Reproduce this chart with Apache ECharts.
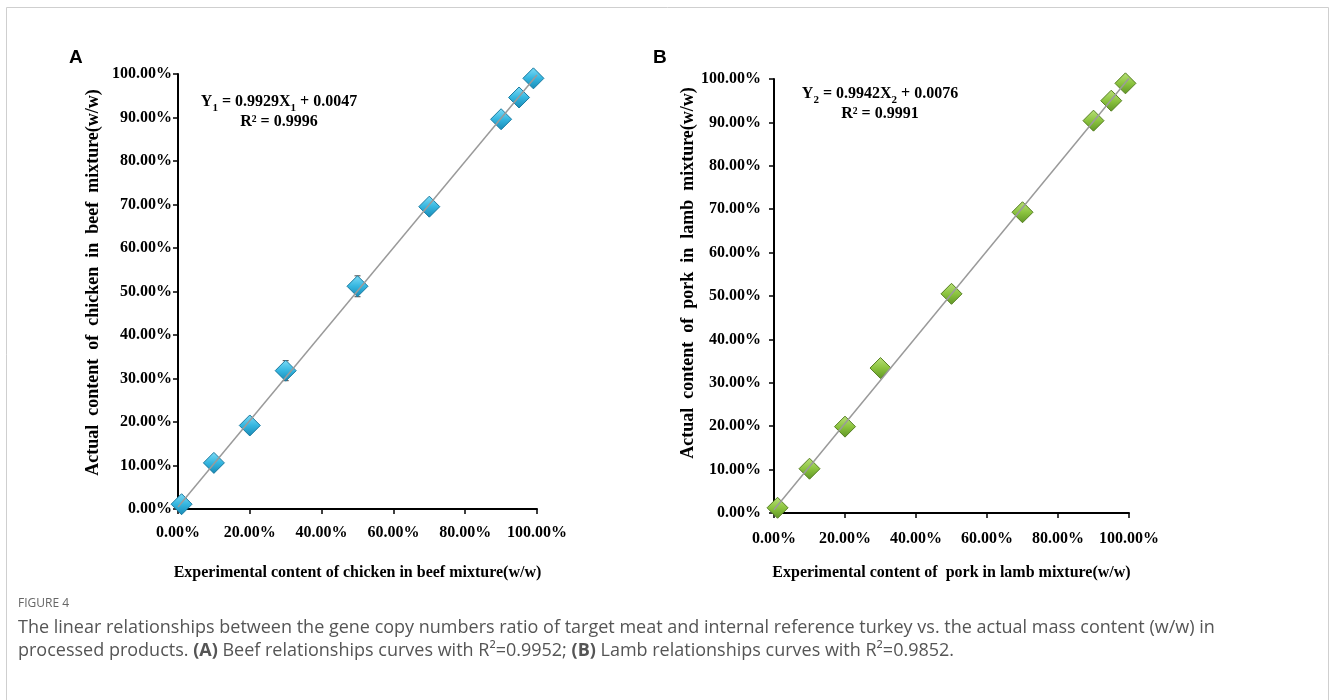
<!DOCTYPE html>
<html>
<head>
<meta charset="utf-8">
<script src="https://cdn.jsdelivr.net/npm/echarts@6/dist/echarts.min.js"></script>
<style>
  html, body { margin: 0; padding: 0; background: #fff; }
  #main { width: 1330px; height: 700px; }
</style>
</head>
<body>
<div id="main"></div>
<script>
  // experimental content (%) - same levels for both panels
  const expLevels = [1, 10, 20, 30, 50, 70, 90, 95, 99]
  // panel A: chicken in beef, actual content (%)
  const chickenActual = [1.1, 10.6, 19.2, 31.8, 51.2, 69.5, 89.6, 94.6, 99.0]
  const chickenErr = [0.6, 0.8, 0.7, 2.3, 2.4, 0.8, 0.7, 0.8, 0.6]
  // panel B: pork in lamb, actual content (%)
  const porkActual = [1.2, 10.2, 19.9, 33.4, 50.5, 69.3, 90.4, 95.0, 99.0]
  // fitted lines (slope, intercept as fraction)
  const fitA = [0.9929, 0.0047]
  const fitB = [0.9942, 0.0076]
  const xTicks = [0, 20, 40, 60, 80, 100]
  const yTicks = [0, 10, 20, 30, 40, 50, 60, 70, 80, 90, 100]

  const serif = '"Liberation Serif", "Times New Roman", serif'
  const sans = '"Open Sans", sans-serif'
  const pct = v => v.toFixed(2) + '%'

  function fitLine(fit) {
    return [0, 100].map(x => [x, fit[0] * x + fit[1] * 100])
  }
  function pairs(ys) {
    return expLevels.map((x, i) => [x, ys[i]])
  }

  function xAxisFor(idx, name, gap, margin) {
    return {
      type: 'value', gridIndex: idx, min: xTicks[0], max: xTicks[xTicks.length - 1], interval: 20,
      name: name, nameLocation: 'middle', nameGap: gap,
      nameTextStyle: { fontFamily: serif, fontWeight: 'bold', fontSize: 16, color: '#000' },
      axisLine: { lineStyle: { color: '#000', width: 2 } },
      axisTick: { length: 5, lineStyle: { color: '#000', width: 1.5 } },
      axisLabel: { formatter: pct, fontFamily: serif, fontWeight: 'bold', fontSize: 16, color: '#000', margin: margin },
      splitLine: { show: false }
    }
  }
  function yAxisFor(idx, name, gap, margin, shift) {
    return {
      type: 'value', gridIndex: idx, min: yTicks[0], max: yTicks[yTicks.length - 1], interval: 10,
      name: name, nameLocation: 'middle', nameGap: gap, nameRotate: 90,
      nameTextStyle: { fontFamily: serif, fontWeight: 'bold', fontSize: 18, color: '#000', padding: [0, 0, 0, shift] },
      axisLine: { show: true, lineStyle: { color: '#000', width: 2 } },
      axisTick: { show: true, length: 5, lineStyle: { color: '#000', width: 1.5 } },
      axisLabel: { formatter: pct, fontFamily: serif, fontWeight: 'bold', fontSize: 16, color: '#000', margin: margin },
      splitLine: { show: false }
    }
  }

  const blueFill = new echarts.graphic.LinearGradient(0, 0, 0, 1, [
    { offset: 0, color: '#7fdcf6' }, { offset: 0.5, color: '#35b6e0' }, { offset: 1, color: '#1789b5' }
  ])
  const greenFill = new echarts.graphic.LinearGradient(0, 0, 0, 1, [
    { offset: 0, color: '#b9e07a' }, { offset: 0.5, color: '#8cc43f' }, { offset: 1, color: '#5f9525' }
  ])

  const eqRich = {
    n: { fontFamily: serif, fontWeight: 'bold', fontSize: 16, fill: '#000', lineHeight: 20, verticalAlign: 'bottom' },
    s: { fontFamily: serif, fontWeight: 'bold', fontSize: 11, fill: '#000', lineHeight: 20, verticalAlign: 'bottom', padding: [0, 0, -4, 0] }
  }

  const chart = echarts.init(document.getElementById('main'))
  const option = {
    animation: false,
    backgroundColor: '#fff',
    grid: [
      { left: 178, top: 74, width: 359, height: 435 },
      { left: 774, top: 79, width: 355, height: 434 }
    ],
    xAxis: [
      xAxisFor(0, 'Experimental content of chicken in beef mixture(w/w)', 56, 16),
      xAxisFor(1, 'Experimental content of  pork in lamb mixture(w/w)', 52, 18)
    ],
    yAxis: [
      yAxisFor(0, 'Actual  content  of  chicken  in  beef  mixture(w/w)', 76, 6, 18),
      yAxisFor(1, 'Actual  content  of  pork  in  lamb  mixture(w/w)', 75, 13, 46)
    ],
    series: [
      {
        type: 'line', xAxisIndex: 0, yAxisIndex: 0, data: fitLine(fitA), symbol: 'none',
        lineStyle: { color: '#9a9a9a', width: 1.5 }, z: 4
      },
      {
        type: 'custom', xAxisIndex: 0, yAxisIndex: 0, z: 2,
        data: expLevels.map((x, i) => [x, chickenActual[i] - chickenErr[i], chickenActual[i] + chickenErr[i]]),
        renderItem: function (params, api) {
          const lo = api.coord([api.value(0), api.value(1)])
          const hi = api.coord([api.value(0), api.value(2)])
          const w = 3
          const st = { stroke: '#444', lineWidth: 1 }
          return {
            type: 'group',
            children: [
              { type: 'line', shape: { x1: lo[0], y1: lo[1], x2: hi[0], y2: hi[1] }, style: st },
              { type: 'line', shape: { x1: lo[0] - w, y1: lo[1], x2: lo[0] + w, y2: lo[1] }, style: st },
              { type: 'line', shape: { x1: hi[0] - w, y1: hi[1], x2: hi[0] + w, y2: hi[1] }, style: st }
            ]
          }
        }
      },
      {
        type: 'scatter', xAxisIndex: 0, yAxisIndex: 0, data: pairs(chickenActual),
        symbol: 'diamond', symbolSize: 21, z: 3,
        itemStyle: { color: blueFill, borderColor: '#1a7aa0', borderWidth: 1, opacity: 1 }
      },
      {
        type: 'line', xAxisIndex: 1, yAxisIndex: 1, data: fitLine(fitB), symbol: 'none',
        lineStyle: { color: '#9a9a9a', width: 1.5 }, z: 4
      },
      {
        type: 'scatter', xAxisIndex: 1, yAxisIndex: 1, data: pairs(porkActual),
        symbol: 'diamond', symbolSize: 21, z: 3,
        itemStyle: { color: greenFill, borderColor: '#567f22', borderWidth: 1, opacity: 1 }
      }
    ],
    graphic: [
      {
        type: 'rect', silent: true, z: -1,
        shape: { x: 6.5, y: 7.5, width: 1322, height: 700 },
        style: { fill: 'none', stroke: '#cfcfcf', lineWidth: 1 }
      },
      {
        type: 'text', left: 69, top: 48,
        style: { text: 'A', font: 'bold 19px "Liberation Sans", Arial, sans-serif', fill: '#000' }
      },
      {
        type: 'text', left: 653, top: 48,
        style: { text: 'B', font: 'bold 19px "Liberation Sans", Arial, sans-serif', fill: '#000' }
      },
      {
        type: 'text', x: 279, y: 100,
        style: { text: '{n|Y}{s|1}{n| = 0.9929X}{s|1}{n| + 0.0047}', align: 'center', verticalAlign: 'middle', rich: eqRich }
      },
      {
        type: 'text', x: 279, y: 122,
        style: { text: 'R² = 0.9996', align: 'center', verticalAlign: 'middle', font: 'bold 16px ' + serif, fill: '#000' }
      },
      {
        type: 'text', x: 880, y: 92,
        style: { text: '{n|Y}{s|2}{n| = 0.9942X}{s|2}{n| + 0.0076}', align: 'center', verticalAlign: 'middle', rich: eqRich }
      },
      {
        type: 'text', x: 880, y: 114,
        style: { text: 'R² = 0.9991', align: 'center', verticalAlign: 'middle', font: 'bold 16px ' + serif, fill: '#000' }
      },
      {
        type: 'text', x: 18, y: 604,
        style: { text: 'FIGURE 4', verticalAlign: 'middle', font: '12px ' + sans, fill: '#666' }
      },
      {
        type: 'text', x: 18, y: 628,
        style: {
          text: 'The linear relationships between the gene copy numbers ratio of target meat and internal reference turkey vs. the actual mass content (w/w) in',
          verticalAlign: 'middle', font: '18px ' + sans, fill: '#555'
        }
      },
      {
        type: 'text', x: 18, y: 651,
        style: {
          text: 'processed products. {b|(A)} Beef relationships curves with R²=0.9952; {b|(B)} Lamb relationships curves with R²=0.9852.',
          verticalAlign: 'middle', font: '18px ' + sans, fill: '#555',
          rich: { b: { fontFamily: sans, fontSize: 18, fontWeight: 'bold', fill: '#555' } }
        }
      }
    ]
  }
  chart.setOption(option)
</script>
</body>
</html>
